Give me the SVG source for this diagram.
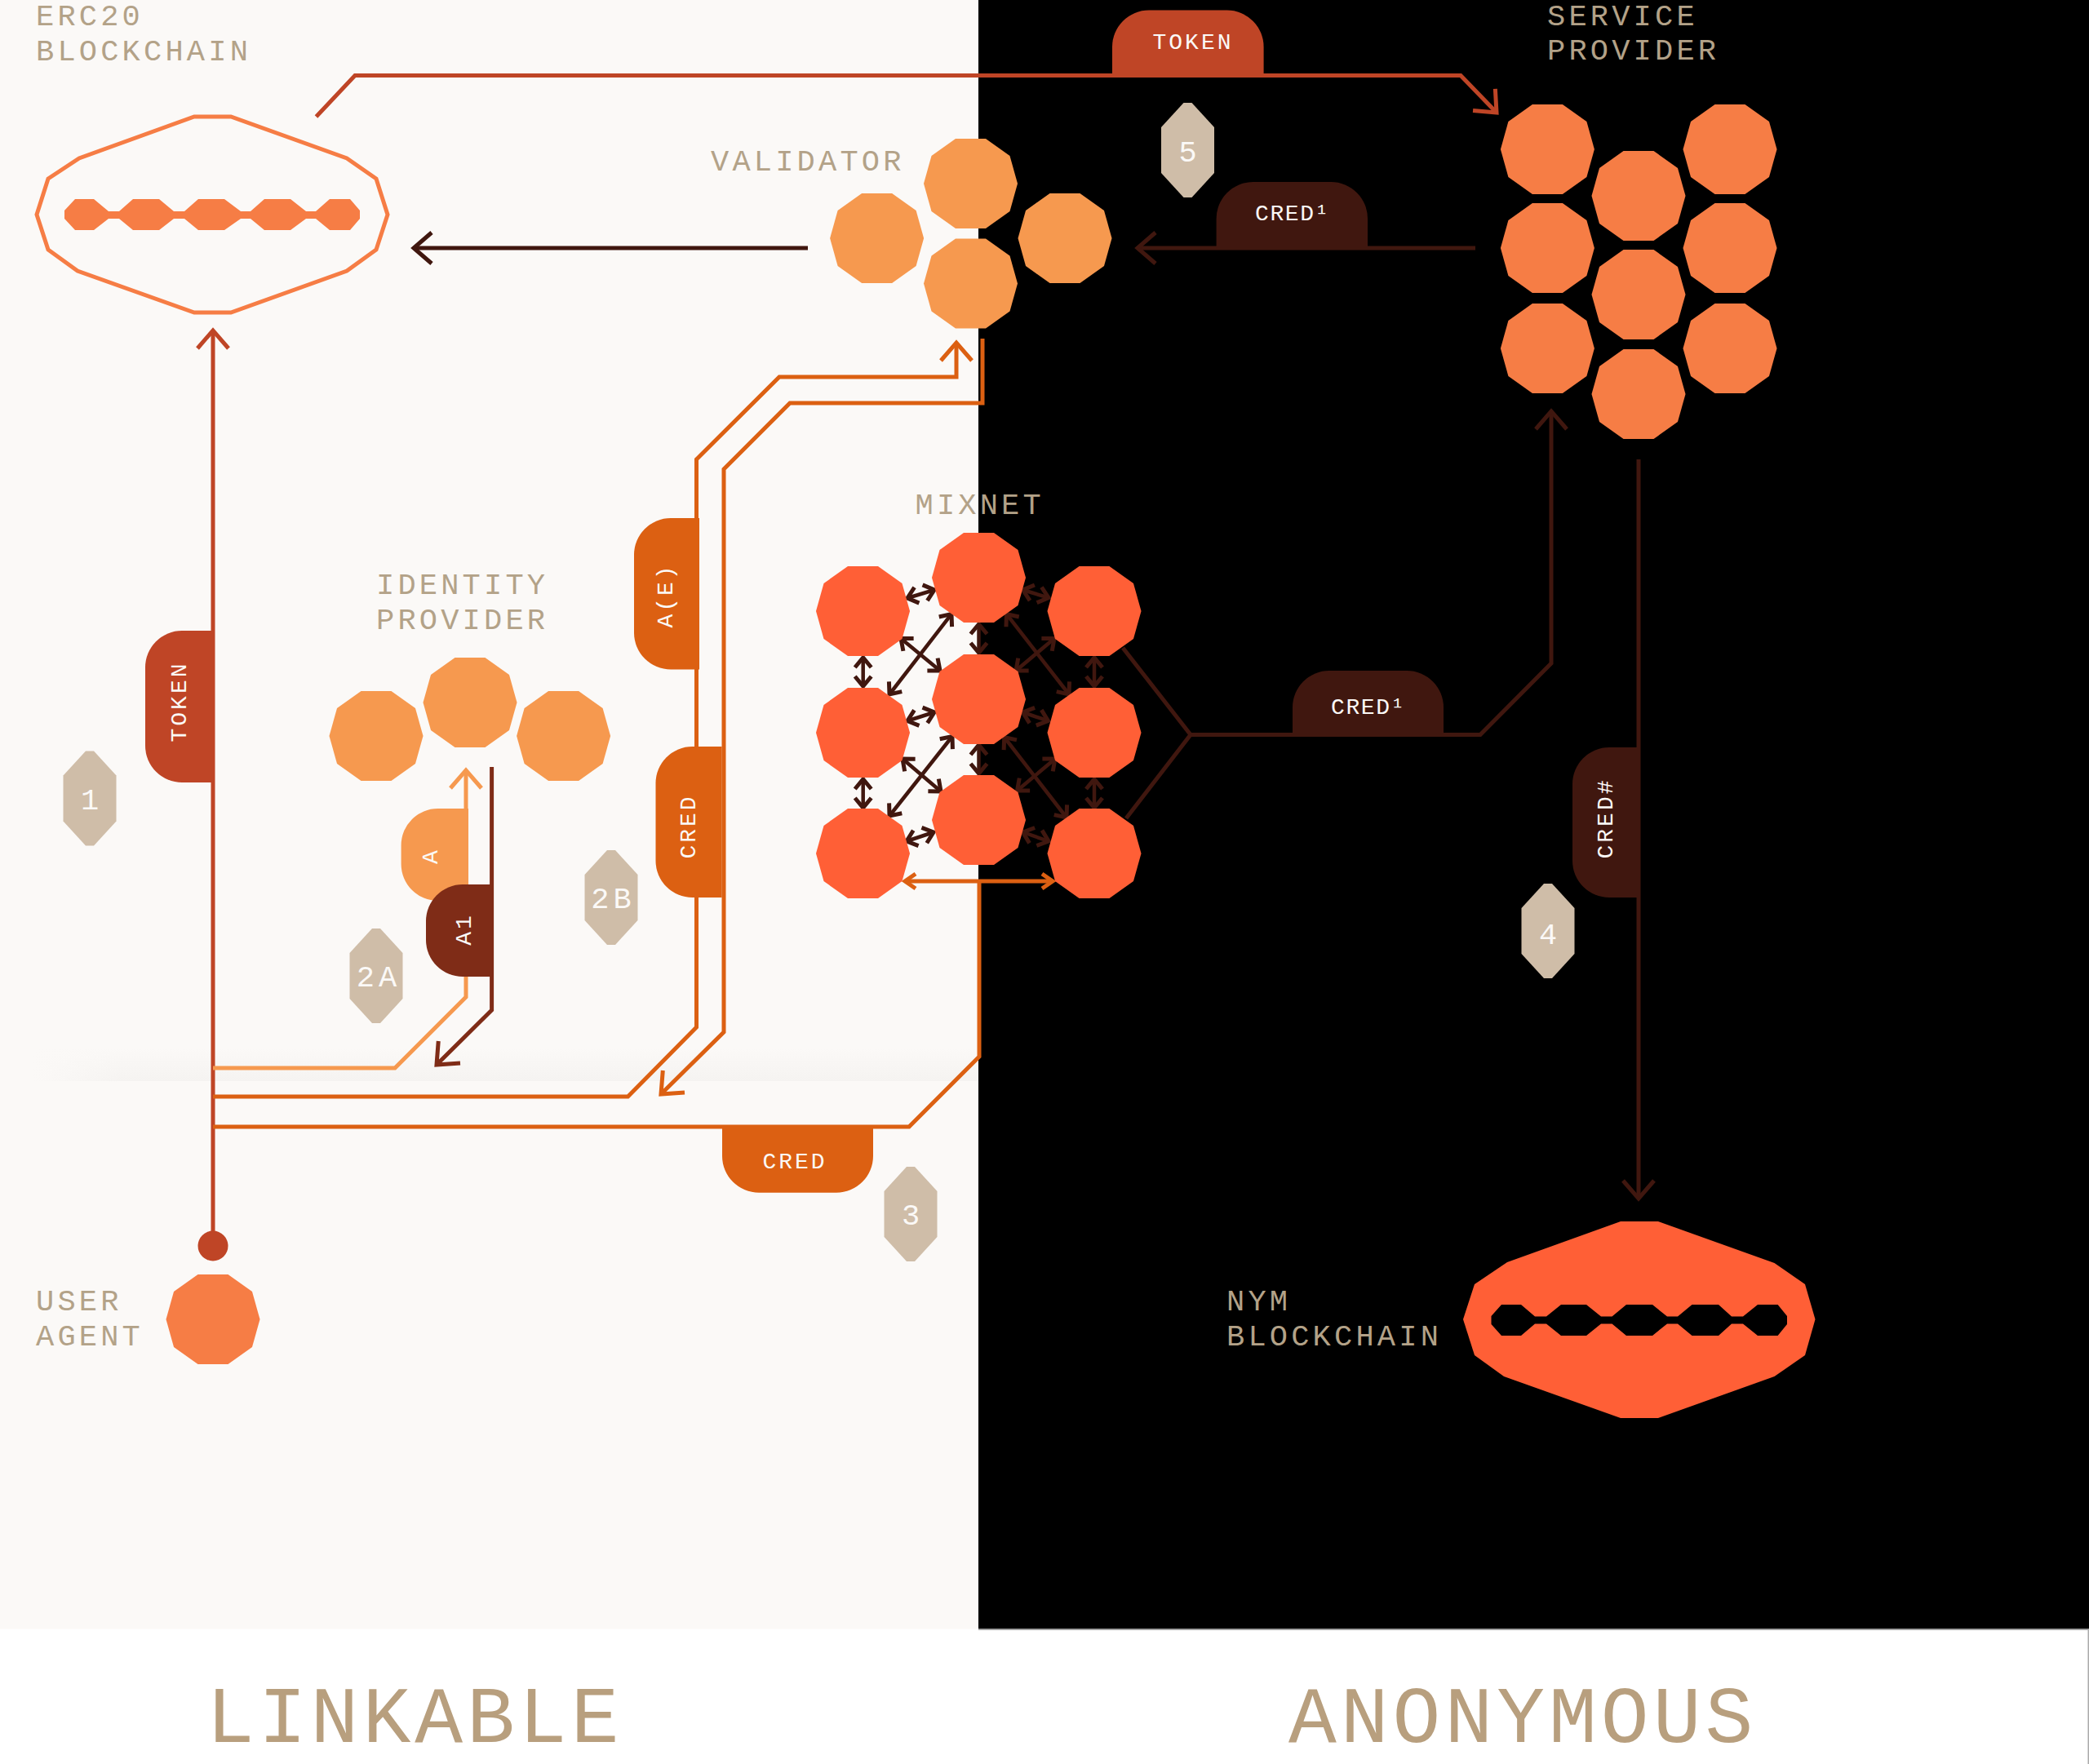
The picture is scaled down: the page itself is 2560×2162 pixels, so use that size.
<svg xmlns="http://www.w3.org/2000/svg" width="2560" height="2162" viewBox="0 0 2560 2162">
<style>
.lbl{font-family:"Liberation Mono",monospace;font-size:37px;letter-spacing:4.2px;fill:#B3A288}
.big{font-family:"Liberation Mono",monospace;font-size:98px;letter-spacing:5px;fill:#B89F7E}
.pt{font-family:"Liberation Mono",monospace;font-size:28px;letter-spacing:3px;fill:#FBF9F7;text-anchor:middle}
.sup{letter-spacing:1.6px}
.bt{font-family:"Liberation Mono",monospace;font-size:37px;fill:#FBF9F7;text-anchor:middle}
.ln{fill:none;stroke-width:5}
.red{stroke:#BF4526}.drk{stroke:#40170F}.br{stroke:#7F2C17}.or{stroke:#DC6012}.lo{stroke:#F6994F}
.mix{fill:none;stroke:#40170F;stroke-width:4.5;marker-start:url(#md);marker-end:url(#md)}
.c1{fill:#FF5F36}.c2{fill:#F67D45}.c3{fill:#F6994F}
.badge{fill:#CFBDA8}
</style>
<defs>
<polygon id="deca" points="-18.5,-55 18.5,-55 48,-34 57.5,0 48,34 18.5,55 -18.5,55 -48,34 -57.5,0 -48,-34"/>
<polygon id="hex" points="-5,-58 5,-58 32.5,-28 32.5,28 5,58 -5,58 -32.5,28 -32.5,-28"/>
<marker id="ar" markerUnits="userSpaceOnUse" markerWidth="60" markerHeight="60" viewBox="-30 -30 60 60" orient="auto"><path d="M-22,-19 L0,0 L-22,19" fill="none" stroke="#BF4526" stroke-width="5"/></marker>
<marker id="ad" markerUnits="userSpaceOnUse" markerWidth="60" markerHeight="60" viewBox="-30 -30 60 60" orient="auto"><path d="M-22,-19 L0,0 L-22,19" fill="none" stroke="#40170F" stroke-width="5"/></marker>
<marker id="ab" markerUnits="userSpaceOnUse" markerWidth="60" markerHeight="60" viewBox="-30 -30 60 60" orient="auto"><path d="M-22,-19 L0,0 L-22,19" fill="none" stroke="#7F2C17" stroke-width="5"/></marker>
<marker id="ao" markerUnits="userSpaceOnUse" markerWidth="60" markerHeight="60" viewBox="-30 -30 60 60" orient="auto"><path d="M-22,-19 L0,0 L-22,19" fill="none" stroke="#DC6012" stroke-width="5"/></marker>
<marker id="al" markerUnits="userSpaceOnUse" markerWidth="60" markerHeight="60" viewBox="-30 -30 60 60" orient="auto"><path d="M-22,-19 L0,0 L-22,19" fill="none" stroke="#F6994F" stroke-width="5"/></marker>
<marker id="md" markerUnits="userSpaceOnUse" markerWidth="40" markerHeight="40" viewBox="-20 -20 40 40" orient="auto-start-reverse"><path d="M-12,-10 L0,0 L-12,10" fill="none" stroke="#40170F" stroke-width="5"/></marker>
<marker id="mo" markerUnits="userSpaceOnUse" markerWidth="40" markerHeight="40" viewBox="-20 -20 40 40" orient="auto-start-reverse"><path d="M-13,-9 L0,0 L-13,9" fill="none" stroke="#DC6012" stroke-width="5"/></marker>
<linearGradient id="shade" x1="0" y1="0" x2="0" y2="1"><stop offset="0" stop-color="#FBF9F7"/><stop offset="1" stop-color="#F5F3F1"/></linearGradient>
<linearGradient id="fade" x1="0" y1="0" x2="1" y2="0"><stop offset="0" stop-color="#FBF9F7"/><stop offset="1" stop-color="#FBF9F7" stop-opacity="0"/></linearGradient>
</defs>

<g id="background">
<rect width="2560" height="2162" fill="#FFFFFF"/>
<rect width="1199" height="1996.5" fill="#FBF9F7"/>
<rect x="1199" width="1361" height="1996.5" fill="#000000"/>
<rect x="40" y="1285" width="1159" height="40" fill="url(#shade)"/>
<rect x="40" y="1285" width="110" height="40" fill="url(#fade)"/>
<rect x="1199" y="1996.5" width="1361" height="1.5" fill="#AAAAAA"/>
<rect x="2558.5" y="1996.5" width="1.5" height="165.5" fill="#AAAAAA"/>
</g>

<g id="connectors">
<path class="ln red" d="M261,1527 V405" marker-end="url(#ar)"/>
<path class="ln red" d="M387.5,143 L435,92.5 H1790 L1834,138" marker-end="url(#ar)"/>
<path class="ln drk" d="M990,304 H507" marker-end="url(#ad)"/>
<path class="ln drk" d="M1808,304 H1394" marker-end="url(#ad)"/>
<path class="ln lo" d="M261,1309 H484 L571,1222 V944" marker-end="url(#al)"/>
<path class="ln br" d="M602.6,940 V1238 L535,1305" marker-end="url(#ab)"/>
<path class="ln or" d="M261,1344 H769.5 L853.5,1259 V563 L955,462 H1172 V420" marker-end="url(#ao)"/>
<path class="ln or" d="M1204,415 V494 H968 L887,575 V1265 L810,1341" marker-end="url(#ao)"/>
<path class="ln or" d="M261,1381 H1114 L1200,1295 V1080"/>
<path class="ln or" d="M1109,1080 H1290" marker-start="url(#mo)" marker-end="url(#mo)"/>
<path class="ln drk" d="M1376,794 L1459,900.5 L1380,1003 M1459,900.5 H1814 L1901,813 V504" marker-end="url(#ad)"/>
<path class="ln drk" d="M2008,563 V1469" marker-end="url(#ad)"/>
<g id="mix-links">
<path class="mix" d="M1112,733 L1145,723"/><path class="mix" d="M1112,883.5 L1145,873"/><path class="mix" d="M1111,1031 L1144,1020"/>
<path class="mix" d="M1253.5,723 L1285,732.6"/><path class="mix" d="M1253.5,873 L1284.4,883.5"/><path class="mix" d="M1253.5,1020 L1285,1031"/>
<path class="mix" d="M1057.7,806 V841"/><path class="mix" d="M1057.7,955 V990"/>
<path class="mix" d="M1341,806 V841"/><path class="mix" d="M1341,955 V990"/>
<path class="mix" d="M1199.5,765 V800"/><path class="mix" d="M1199.5,913 V948"/>
<path class="mix" d="M1166,752.6 L1090,851"/><path class="mix" d="M1104,782.5 L1152,822"/>
<path class="mix" d="M1167,902.5 L1090,1000"/><path class="mix" d="M1106,930 L1153,970"/>
<path class="mix" d="M1233.5,752.6 L1310,851"/><path class="mix" d="M1292,782.5 L1245,822"/>
<path class="mix" d="M1230.7,903.5 L1307,1002"/><path class="mix" d="M1293,930 L1246.5,969"/>
</g>
</g>

<g id="erc20-blockchain">
<polygon points="238,143 283,143 425,194 461,219 475,263 461,306 425,332 283,383 238,383 95,332 59,306 45,263 59,219 97,194" fill="none" stroke="#F67D45" stroke-width="5"/>
<polygon class="c2" points="79,258 92,244 115,244 133,259 146,259 163,244 195,244 213,259 226,259 243,244 275,244 295,259 307,259 324,244 356,244 375,259 387,259 404,244 429,244 441,258 441,268 429,282 404,282 387,268 375,268 356,282 324,282 307,268 295,268 275,282 243,282 226,268 213,268 195,282 163,282 146,268 133,268 115,282 92,282 79,268"/>
<text class="lbl" x="44" y="31">ERC20</text>
<text class="lbl" x="44" y="73.5">BLOCKCHAIN</text>
</g>

<g id="validator">
<use href="#deca" class="c3" x="1189.5" y="225"/>
<use href="#deca" class="c3" x="1189.5" y="347.5"/>
<use href="#deca" class="c3" x="1074.6" y="292"/>
<use href="#deca" class="c3" x="1305" y="292"/>
<text class="lbl" x="871" y="209">VALIDATOR</text>
</g>

<g id="service-provider">
<use href="#deca" class="c2" x="1896.4" y="183"/>
<use href="#deca" class="c2" x="1896.4" y="304"/>
<use href="#deca" class="c2" x="1896.4" y="427"/>
<use href="#deca" class="c2" x="2008" y="240"/>
<use href="#deca" class="c2" x="2008" y="361"/>
<use href="#deca" class="c2" x="2008" y="483"/>
<use href="#deca" class="c2" x="2120" y="183"/>
<use href="#deca" class="c2" x="2120" y="304"/>
<use href="#deca" class="c2" x="2120" y="427"/>
<text class="lbl" x="1896" y="30.5">SERVICE</text>
<text class="lbl" x="1896" y="73">PROVIDER</text>
</g>

<g id="identity-provider">
<use href="#deca" class="c3" x="576" y="861"/>
<use href="#deca" class="c3" x="461" y="902"/>
<use href="#deca" class="c3" x="690.6" y="902"/>
<text class="lbl" x="461" y="728">IDENTITY</text>
<text class="lbl" x="461" y="771">PROVIDER</text>
</g>

<g id="mixnet">
<use href="#deca" class="c1" x="1057.5" y="749"/>
<use href="#deca" class="c1" x="1057.5" y="898"/>
<use href="#deca" class="c1" x="1057.5" y="1046"/>
<use href="#deca" class="c1" x="1199.5" y="708"/>
<use href="#deca" class="c1" x="1199.5" y="857"/>
<use href="#deca" class="c1" x="1199.5" y="1005"/>
<use href="#deca" class="c1" x="1341" y="749"/>
<use href="#deca" class="c1" x="1341" y="898"/>
<use href="#deca" class="c1" x="1341" y="1046"/>
<text class="lbl" x="1121.5" y="630">MIXNET</text>
</g>

<g id="user-agent">
<circle cx="261" cy="1527" r="18.5" fill="#BF4526"/>
<use href="#deca" class="c2" x="261" y="1617"/>
<text class="lbl" x="44" y="1606">USER</text>
<text class="lbl" x="44" y="1649">AGENT</text>
</g>

<g id="nym-blockchain">
<polygon class="c1" points="1986,1497 2032,1497 2174.5,1548 2212,1574 2224.5,1617 2212,1661 2174.5,1687 2032,1738 1986,1738 1843,1687 1807,1661 1793,1617 1807,1574 1847,1547"/>
<polygon fill="#000000" points="1827.5,1613 1840,1599 1864,1599 1881,1613.5 1895,1613.5 1913,1599 1944,1599 1962,1613.5 1975.5,1613.5 1993,1599 2025,1599 2043,1613.5 2056,1613.5 2073.5,1599 2106,1599 2122,1613.5 2136,1613.5 2154,1599 2178.6,1599 2190,1613 2190,1623 2178.6,1637 2154,1637 2136,1622.5 2122,1622.5 2106,1637 2073.5,1637 2056,1622.5 2043,1622.5 2025,1637 1993,1637 1975.5,1622.5 1962,1622.5 1944,1637 1913,1637 1895,1622.5 1881,1622.5 1864,1637 1840,1637 1827.5,1623"/>
<text class="lbl" x="1503" y="1605.5">NYM</text>
<text class="lbl" x="1503" y="1649">BLOCKCHAIN</text>
</g>

<g id="label-token-top"><path d="M1363,93 V57.5 A45,45 0 0 1 1408,12.5 H1503.6 A45,45 0 0 1 1548.6,57.5 V93 Z" fill="#BF4526"/><text class="pt" x="1462" y="60">TOKEN</text></g>
<g id="label-cred1-top"><path d="M1490.6,304 V268 A45,45 0 0 1 1535.6,223 H1631 A45,45 0 0 1 1676,268 V304 Z" fill="#40170F"/><text class="pt sup" x="1584" y="270">CRED¹</text></g>
<g id="label-cred1-mid"><path d="M1584,900 V867 A45,45 0 0 1 1629,822 H1724 A45,45 0 0 1 1769,867 V900 Z" fill="#40170F"/><text class="pt sup" x="1677" y="875">CRED¹</text></g>
<g id="label-cred-hash"><path d="M2010,916 H1972 A45,45 0 0 0 1927,961 V1055 A45,45 0 0 0 1972,1100 H2010 Z" fill="#40170F"/><text class="pt" transform="translate(1976,1003) rotate(-90)">CRED#</text></g>
<g id="label-token-left"><path d="M261,773 H223 A45,45 0 0 0 178,818 V914 A45,45 0 0 0 223,959 H261 Z" fill="#BF4526"/><text class="pt" transform="translate(228,860) rotate(-90)">TOKEN</text></g>
<g id="label-ae"><path d="M857,635 H822 A45,45 0 0 0 777,680 V775.5 A45,45 0 0 0 822,820.5 H857 Z" fill="#DC6012"/><text class="pt" transform="translate(824,730) rotate(-90)">A(E)</text></g>
<g id="label-cred-v"><path d="M884.6,915 H848.5 A45,45 0 0 0 803.5,960 V1055 A45,45 0 0 0 848.5,1100 H884.6 Z" fill="#DC6012"/><text class="pt" transform="translate(851.5,1013) rotate(-90)">CRED</text></g>
<g id="label-cred-h"><path d="M885,1381 H1070 V1416.7 A45,45 0 0 1 1025,1461.7 H930 A45,45 0 0 1 885,1416.7 Z" fill="#DC6012"/><text class="pt" x="974" y="1431.5">CRED</text></g>
<g id="label-a"><path d="M574,991 H536.6 A45,45 0 0 0 491.6,1036 V1059 A45,45 0 0 0 536.6,1104 H574 Z" fill="#F6994F"/><text class="pt" transform="translate(536,1049) rotate(-90)">A</text></g>
<g id="label-a1"><path d="M604.5,1084 H567 A45,45 0 0 0 522,1129 V1152 A45,45 0 0 0 567,1197 H604.5 Z" fill="#7F2C17"/><text class="pt" transform="translate(577,1139) rotate(-90)">A1</text></g>

<g id="step-1"><use href="#hex" class="badge" x="110" y="978.5"/><text class="bt" x="110" y="991.5">1</text></g>
<g id="step-2a"><use href="#hex" class="badge" x="461" y="1196"/><text class="bt" x="464" y="1209" letter-spacing="5">2A</text></g>
<g id="step-2b"><use href="#hex" class="badge" x="749" y="1100"/><text class="bt" x="751.5" y="1113" letter-spacing="5">2B</text></g>
<g id="step-3"><use href="#hex" class="badge" x="1116" y="1488"/><text class="bt" x="1116" y="1501">3</text></g>
<g id="step-4"><use href="#hex" class="badge" x="1897" y="1141"/><text class="bt" x="1897" y="1157">4</text></g>
<g id="step-5"><use href="#hex" class="badge" x="1455.5" y="184"/><text class="bt" x="1455.5" y="198">5</text></g>

<text class="big" x="253" y="2135">LINKABLE</text>
<text class="big" x="1579" y="2135">ANONYMOUS</text>
</svg>
